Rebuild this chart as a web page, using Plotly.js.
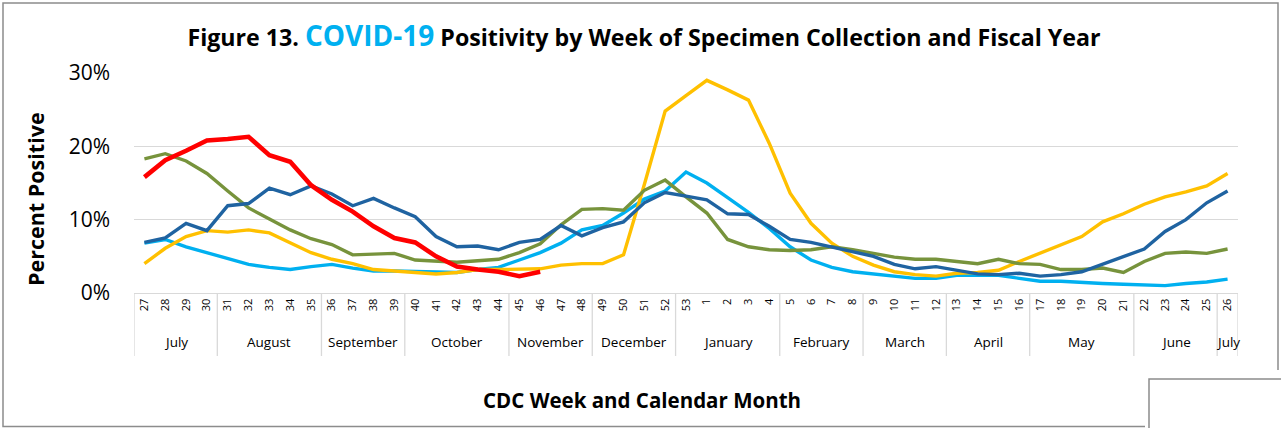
<!DOCTYPE html>
<html>
<head>
<meta charset="utf-8">
<script src="https://cdn.plot.ly/plotly-3.0.1.min.js"></script>
<style>html,body{margin:0;padding:0;background:#fff;}#chart{width:1281px;height:428px;}</style>
</head>
<body>
<div id="chart"></div>
<script>
// CDC weeks (fiscal year order)
const weeks = ["27","28","29","30","31","32","33","34","35","36","37","38","39","40","41","42","43","44","45","46","47","48","49","50","51","52","53",
  "1","2","3","4","5","6","7","8","9","10","11","12","13","14","15","16","17","18","19","20","21","22","23","24","25","26"];
const months = ["July","August","September","October","November","December","January","February","March","April","May","June","July"];
const monthWeekCounts = [4,5,4,5,4,4,5,4,4,4,5,4,1];

const fy2021 = [6.8,7.3,6.3,5.5,4.7,3.9,3.5,3.2,3.6,3.9,3.4,3.0,3.0,2.9,
  2.9,2.8,3.2,3.5,4.5,5.5,6.8,8.6,9.2,10.9,12.8,13.9,16.5,15.0,
  13.0,11.0,8.8,6.3,4.5,3.5,2.9,2.6,2.3,2.0,2.0,2.4,2.4,2.4,
  2.0,1.6,1.6,1.4,1.3,1.2,1.1,1.0,1.3,1.5,1.9];
const fy2122 = [4.0,6.1,7.7,8.5,8.3,8.6,8.2,6.8,5.5,4.6,4.0,3.2,3.0,2.7,
  2.6,2.8,3.2,3.2,3.2,3.3,3.8,4.0,4.0,5.2,14.8,24.8,26.9,29.0,
  27.7,26.3,20.4,13.6,9.5,6.8,5.0,3.8,2.9,2.5,2.3,2.7,2.8,3.1,
  4.3,5.4,6.6,7.7,9.7,10.8,12.1,13.1,13.8,14.6,16.3];
const fy2223 = [18.3,19.0,18.0,16.3,13.9,11.6,10.1,8.6,7.4,6.6,5.2,5.3,5.4,4.5,
  4.3,4.2,4.4,4.6,5.5,6.7,9.3,11.4,11.5,11.3,14.0,15.4,13.1,10.9,
  7.3,6.3,5.9,5.8,5.9,6.3,5.9,5.4,4.9,4.6,4.6,4.3,4.0,4.6,
  4.0,3.9,3.2,3.2,3.4,2.8,4.3,5.4,5.6,5.4,6.0];
const fy2324 = [6.9,7.5,9.5,8.5,11.9,12.2,14.3,13.4,14.6,13.5,11.9,12.9,11.6,10.4,
  7.7,6.3,6.4,5.9,6.9,7.3,9.2,7.8,8.9,9.7,12.3,13.7,13.2,12.7,
  10.8,10.7,9.1,7.3,6.9,6.3,5.7,5.0,3.9,3.3,3.6,3.1,2.6,2.5,
  2.7,2.3,2.5,2.9,3.9,5.0,6.0,8.4,10.0,12.3,13.9];
const fy2425 = [15.8,18.1,19.4,20.8,21.0,21.3,18.8,17.9,14.7,12.7,11.1,9.1,7.5,6.9,5.0,3.6,3.2,2.9,2.3,2.9];

const M = {l:134, r:43, t:73, b:135};
const W = 1281, H = 428;
const PW = W - M.l - M.r, PH = H - M.t - M.b;
const px = v => (v - M.l) / PW;
const py = v => (H - M.b - v) / PH;

function tr(name, y, color, width) {
  return {type:'scatter', mode:'lines', name:name, x:weeks.slice(0, y.length), y:y,
    line:{color:color, width:width}, hoverinfo:'x+y+name'};
}
const data = [
  tr('FY2020-21', fy2021, '#00B0F0', 3.4),
  tr('FY2021-22', fy2122, '#FFC000', 3.4),
  tr('FY2022-23', fy2223, '#77933C', 3.4),
  tr('FY2023-24', fy2324, '#1F63A1', 3.4),
  tr('FY2024-25', fy2425, '#FF0000', 4.6)
];

const shapes = [];
const annotations = [];
let start = 0;
const divY0 = 0, divY1 = py(356);
shapes.push({type:'line', xref:'x', yref:'paper', x0:-0.5, x1:-0.5, y0:divY0, y1:divY1, line:{color:'#D9D9D9', width:1.3}});
monthWeekCounts.forEach((n, k) => {
  const end = start + n;
  shapes.push({type:'line', xref:'x', yref:'paper', x0:end-0.5, x1:end-0.5, y0:divY0, y1:divY1, line:{color:'#D9D9D9', width:1.3}});
  annotations.push({xref:'x', yref:'paper', x:(start + end - 1)/2, y:py(342), text:months[k], showarrow:false,
    font:{family:'Open Sans', size:13.5, color:'#000'}, xanchor:'center', yanchor:'middle'});
  start = end;
});

// outer frame (paper coords)
shapes.push({type:'path', xref:'paper', yref:'paper',
  path:`M ${px(1145)} ${py(426.5)} L ${px(3)} ${py(426.5)} L ${px(3)} ${py(3)} L ${px(1278)} ${py(3)} L ${px(1278)} ${py(370)}`,
  line:{color:'#8C8C8C', width:1.5}});
shapes.push({type:'path', xref:'paper', yref:'paper',
  path:`M ${px(1149)} ${py(430)} L ${px(1149)} ${py(379)} L ${px(1283)} ${py(379)}`,
  line:{color:'#8C8C8C', width:1.5}});

annotations.push({xref:'paper', yref:'paper', x:px(642), y:py(400), text:'<b>CDC Week and Calendar Month</b>', showarrow:false,
  font:{family:'Open Sans', size:20.5, color:'#000'}, xanchor:'center', yanchor:'middle'});
annotations.push({xref:'paper', yref:'paper', x:px(35), y:py(199), text:'<b>Percent Positive</b>', showarrow:false, textangle:-90,
  font:{family:'Open Sans', size:21.5, color:'#000'}, xanchor:'center', yanchor:'middle'});

const layout = {
  width:W, height:H, margin:M, paper_bgcolor:'#fff', plot_bgcolor:'#fff', showlegend:false,
  title:{text:'<b>Figure 13. <span style="color:#00B0F0;font-size:28px">COVID-19</span> Positivity by Week of Specimen Collection and Fiscal Year</b>',
    font:{family:'Open Sans', size:23.2, color:'#000'}, xref:'container', x:644/W, xanchor:'center', yref:'container', y:1-38/H, yanchor:'middle'},
  xaxis:{type:'category', categoryorder:'array', categoryarray:weeks, tickvals:weeks, ticktext:weeks, tickangle:-90,
    tickfont:{family:'Open Sans', size:11, color:'#000'}, showgrid:false, zeroline:false, showline:true, linecolor:'#D9D9D9', linewidth:1.3,
    ticks:'', range:[-0.5, weeks.length-0.5], fixedrange:true},
  yaxis:{range:[0,30], tickvals:[0,10,20,30], ticktext:['0%','10%','20%','30%'], showgrid:true, gridcolor:'#D9D9D9', gridwidth:1.3,
    zeroline:false, showline:false, ticks:'', ticklabelstandoff:23, tickfont:{family:'Open Sans', size:21, color:'#000'}, fixedrange:true},
  shapes:shapes, annotations:annotations
};
Plotly.newPlot('chart', data, layout, {displayModeBar:false, staticPlot:true});
</script>
</body>
</html>
